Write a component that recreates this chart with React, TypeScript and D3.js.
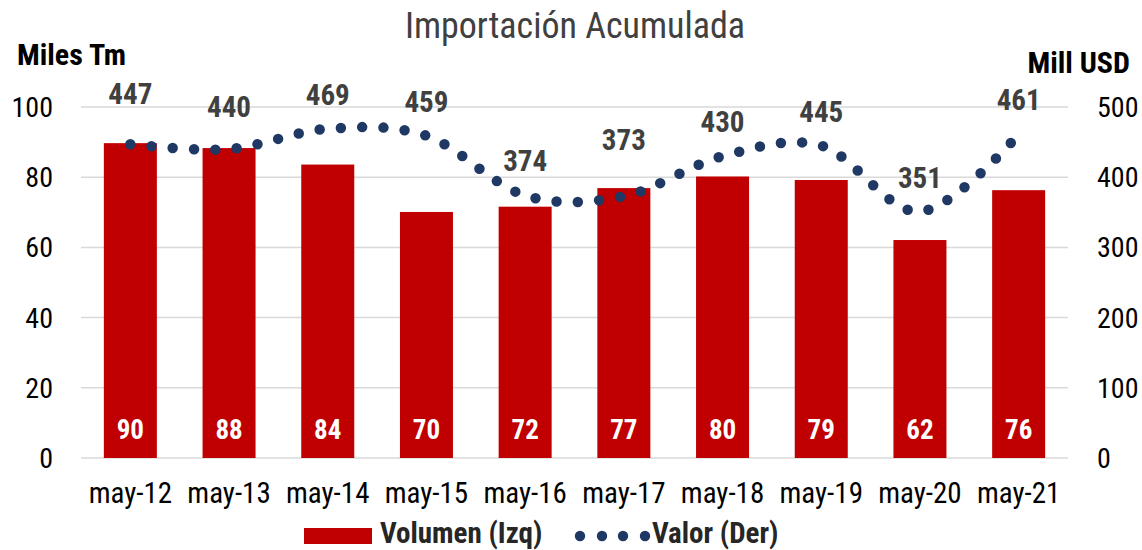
import React from "react";
import * as d3 from "d3";

const categories = ["may-12", "may-13", "may-14", "may-15", "may-16", "may-17", "may-18", "may-19", "may-20", "may-21"];
const volumen = [89.7, 88.3, 83.6, 70.1, 71.6, 76.9, 80.2, 79.2, 62.1, 76.3];
const valor = [447, 440, 469, 459, 374, 373, 430, 445, 351, 461];
const leftTicks = [0, 20, 40, 60, 80, 100];
const rightTicks = [0, 100, 200, 300, 400, 500];
// extra vertical lift of some value labels (as placed in the original)
const labelLift = [16, 8, 0, 0, 0, 22, 0, 0, 0, 0];

const W = 1142;
const H = 550;
const FONT = "'Liberation Sans Narrow', 'Arial Narrow', 'Roboto Condensed', Roboto, sans-serif";

export default function App() {
  const x = d3.scaleBand<string>().domain(categories).range([81, 1068]).paddingInner(0.463).paddingOuter(0.2315);
  const yL = d3.scaleLinear().domain([0, 100]).range([458, 107]);
  const yR = d3.scaleLinear().domain([0, 500]).range([458, 107]);
  const cx = (c: string) => (x(c) as number) + x.bandwidth() / 2;
  const line = d3
    .line<number>()
    .x((_, i) => cx(categories[i]))
    .y((d) => yR(d))
    .curve(d3.curveCardinal.tension(0));

  return (
    <svg width={W} height={H} style={{ position: "absolute", left: 0, top: 0 }}>
      <rect width={W} height={H} fill="#fff" />
      <text x={575} y={38} textAnchor="middle" fontFamily={FONT} fontSize={36} fill="#404040">
        Importación Acumulada
      </text>
      <text x={17} y={65} fontFamily={FONT} fontSize={30} fontWeight="bold" fill="#000">
        Miles Tm
      </text>
      <text x={1130} y={73} textAnchor="end" fontFamily={FONT} fontSize={30} fontWeight="bold" fill="#000">
        Mill USD
      </text>
      {leftTicks.map((t) => (
        <g key={"g" + t}>
          <line x1={81} x2={1068} y1={yL(t)} y2={yL(t)} stroke="#d9d9d9" strokeWidth={1.5} />
          <text x={53} y={yL(t) + 10} textAnchor="end" fontFamily={FONT} fontSize={28} fill="#000">
            {t}
          </text>
        </g>
      ))}
      {rightTicks.map((t) => (
        <text key={"r" + t} x={1097} y={yR(t) + 10} textAnchor="start" fontFamily={FONT} fontSize={28} fill="#000">
          {t}
        </text>
      ))}
      {categories.map((c, i) => (
        <g key={c}>
          <rect x={x(c)} y={yL(volumen[i])} width={x.bandwidth()} height={yL(0) - yL(volumen[i])} fill="#C00000" />
          <text x={cx(c)} y={439} textAnchor="middle" fontFamily={FONT} fontSize={27} fontWeight="bold" fill="#fff">
            {Math.round(volumen[i])}
          </text>
          <text x={cx(c)} y={503} textAnchor="middle" fontFamily={FONT} fontSize={29} fill="#000">
            {c}
          </text>
        </g>
      ))}
      <path
        d={line(valor) || ""}
        fill="none"
        stroke="#1F3864"
        strokeWidth={10.5}
        strokeLinecap="round"
        strokeDasharray="0 21.3"
      />
      {categories.map((c, i) => (
        <text
          key={"v" + c}
          x={cx(c)}
          y={yR(valor[i]) - 24 - labelLift[i]}
          textAnchor="middle"
          fontFamily={FONT}
          fontSize={29}
          fontWeight="bold"
          fill="#404040"
        >
          {valor[i]}
        </text>
      ))}
      <g>
        <rect x={304} y={528} width={68} height={16} fill="#C00000" />
        <text x={380} y={543} fontFamily={FONT} fontSize={29} fontWeight="bold" fill="#262626">
          Volumen (Izq)
        </text>
        {[580, 602, 623, 645].map((dx) => (
          <circle key={dx} cx={dx} cy={536} r={5.2} fill="#1F3864" />
        ))}
        <text x={652} y={543} fontFamily={FONT} fontSize={29} fontWeight="bold" fill="#262626">
          Valor (Der)
        </text>
      </g>
    </svg>
  );
}
